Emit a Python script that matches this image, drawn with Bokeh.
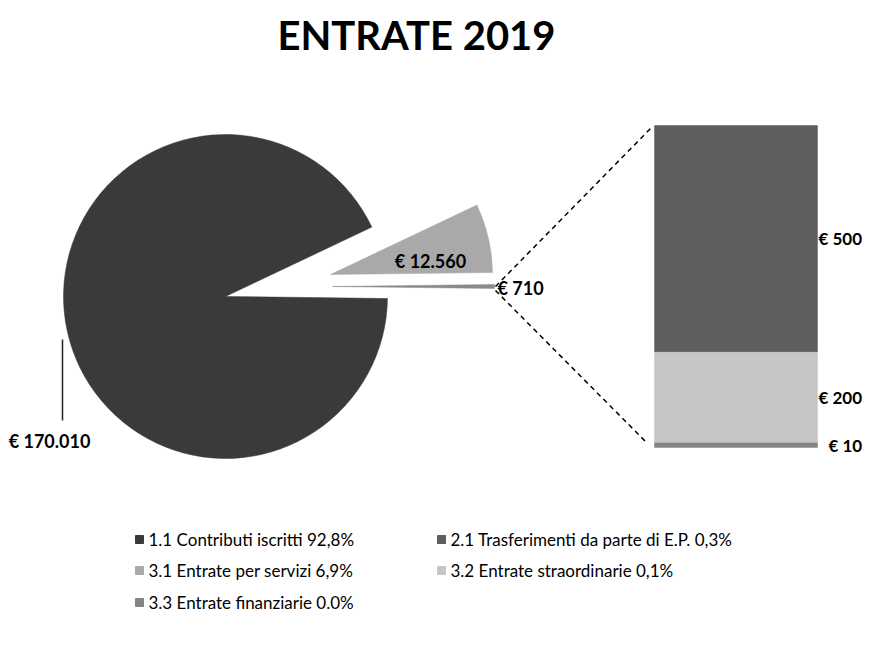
import math
from bokeh.plotting import figure
from bokeh.models import Range1d
from bokeh.embed import file_html
from bokeh.resources import INLINE
from bokeh.core.properties import value

# ---------------- data ----------------
title_text = "ENTRATE 2019"
pie_names = ["Altro", "3.1 Entrate per servizi", "1.1 Contributi iscritti"]
pie_values = [710, 12560, 170010]
bar_names = ["2.1 Trasferimenti da parte di E.P.", "3.2 Entrate straordinarie", "3.3 Entrate finanziarie"]
bar_values = [500, 200, 10]
legend_labels = [
    "1.1 Contributi iscritti 92,8%",
    "2.1 Trasferimenti da parte di E.P. 0,3%",
    "3.1 Entrate per servizi 6,9%",
    "3.2 Entrate straordinarie 0,1%",
    "3.3 Entrate finanziarie 0.0%",
]

# ---------------- style / layout ----------------
FONT = "Lato"
W, H = 865, 630
pie_colors = ["#8a8a8a", "#a9a9a9", "#3a3a3a"]
bar_colors = ["#5e5e5e", "#c6c6c6", "#858585"]
legend_colors = ["#3a3a3a", "#5e5e5e", "#a9a9a9", "#c6c6c6", "#858585"]


def px(x_img, y_img):
    return x_img - 8, 638 - y_img


cx, cy = px(233, 304)
R = 162
explode = [(107, 10), (105, 22), (0, 0)]

p = figure(width=W, height=H, x_range=Range1d(0, W), y_range=Range1d(0, H),
           x_axis_type=None, y_axis_type=None, output_backend="svg",
           toolbar_location=None, min_border=0)
p.grid.visible = False
p.outline_line_color = None
p.background_fill_color = "white"

# pie
total = sum(pie_values)
angles = [2 * math.pi * v / total for v in pie_values]
start = -angles[0] / 2
starts, ends = [], []
for a in angles:
    starts.append(start)
    ends.append(start + a)
    start += a
for i in range(len(pie_values)):
    p.wedge(x=cx + explode[i][0], y=cy + explode[i][1], radius=R,
            start_angle=starts[i], end_angle=ends[i], direction="anticlock",
            fill_color=pie_colors[i], line_color=pie_colors[i], line_width=0.5)


def eur(v):
    return "€ " + f"{v:,}".replace(",", ".")


LBL = dict(text_font=value(FONT), text_font_style="bold", text_font_size="18px",
           text_baseline="middle", text_color="black")
LBL_R = dict(LBL, text_font_size="17px")

# pie labels
lx, ly = px(57, 448)
p.text(x=[lx], y=[ly], text=[eur(pie_values[2])], text_align="center", **LBL)
lx, ly = px(438, 268)
p.text(x=[lx], y=[ly], text=[eur(pie_values[1])], text_align="center", **LBL)
lx, ly = px(505, 295)
p.text(x=[lx], y=[ly], text=[eur(pie_values[0])], text_align="left", **LBL)

# leader for main label
x0, y0 = px(70, 347)
x1, y1 = px(70, 428)
p.line(x=[x0, x1], y=[y0, y1], line_color="#222222", line_width=1.5)

# secondary bar with its own scale
bar_bottom_px = 638 - 455
bar_top_px = 638 - 133
span = sum(bar_values) * H / (bar_top_px - bar_bottom_px)
bstart = -bar_bottom_px * span / H
p.extra_y_ranges = {"bar": Range1d(bstart, bstart + span)}
bx0, _ = px(662, 0)
bx1, _ = px(825, 0)
bottoms, tops = [], []
acc = 0
for v in reversed(bar_values):
    bottoms.append(acc)
    acc += v
    tops.append(acc)
bottoms = list(reversed(bottoms))
tops = list(reversed(tops))
p.quad(left=[bx0] * 3, right=[bx1] * 3, bottom=bottoms, top=tops,
       fill_color=bar_colors, line_color=bar_colors, line_width=0.5, y_range_name="bar")
mids = [(b + t) / 2 for b, t in zip(bottoms, tops)]
p.text(x=[bx1 + 1, bx1 + 1, bx1 + 11], y=mids, text=[eur(v) for v in bar_values],
       text_align="left", y_range_name="bar", **LBL_R)

# connector dashed lines
tipx, tipy = px(503, 294)
ux, uy = px(660, 134)
lx2, ly2 = px(655, 451)
p.line(x=[tipx, ux], y=[tipy, uy], line_dash="5 4", line_color="black", line_width=1.5)
p.line(x=[tipx, lx2], y=[tipy - 4, ly2], line_dash="5 4", line_color="black", line_width=1.5)

# title
tx, ty = px(424, 42)
p.text(x=[tx], y=[ty], text=[title_text], text_font=value(FONT), text_font_style="bold",
       text_font_size="40px", text_align="center", text_baseline="middle", text_color="black")

# legend
rows_y = [547, 547, 578, 578, 610]
cols_x = [147, 449, 147, 449, 147]
for lab, col, xi, yi in zip(legend_labels, legend_colors, cols_x, rows_y):
    mx, my = px(xi, yi)
    p.rect(x=[mx], y=[my], width=8, height=8, fill_color=col, line_color=col)
    p.text(x=[mx + 9], y=[my], text=[lab], text_font=value(FONT), text_font_size="17px",
           text_align="left", text_baseline="middle", text_color="black")

open("out.html", "w").write(file_html(p, INLINE))
